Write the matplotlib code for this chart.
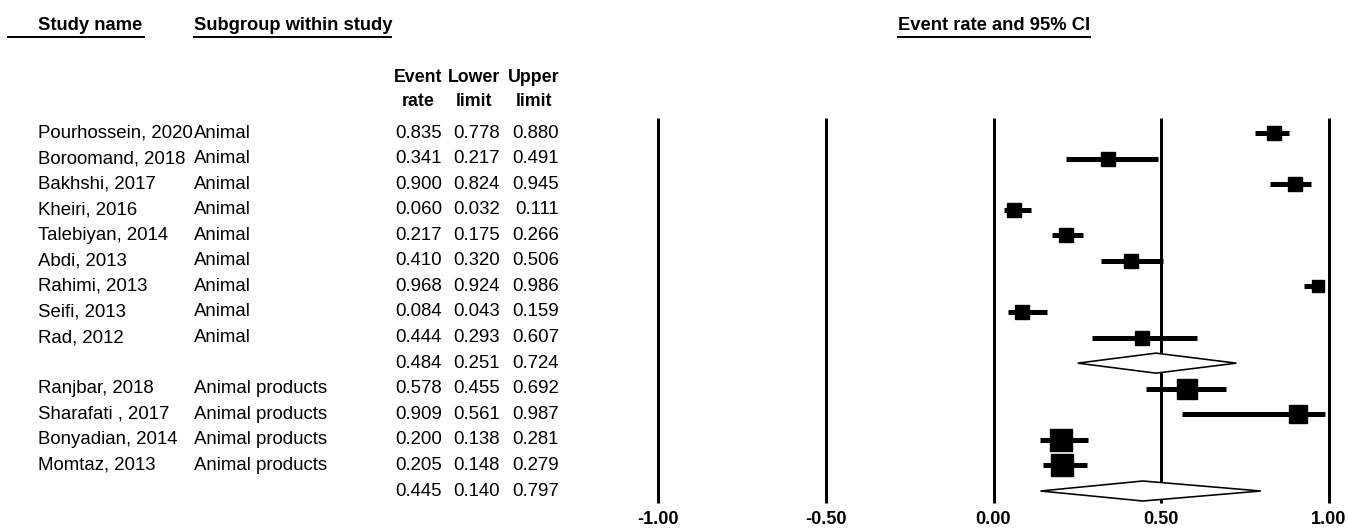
import matplotlib.pyplot as plt
from matplotlib.patches import Polygon
from matplotlib.transforms import blended_transform_factory

plt.rcParams['font.family'] = ['Liberation Sans', 'DejaVu Sans']

# rows of the forest plot, top to bottom ('' name = subgroup summary)
study_names = ['Pourhossein, 2020', 'Boroomand, 2018', 'Bakhshi, 2017', 'Kheiri, 2016',
               'Talebiyan, 2014', 'Abdi, 2013', 'Rahimi, 2013', 'Seifi, 2013', 'Rad, 2012', '',
               'Ranjbar, 2018', 'Sharafati , 2017', 'Bonyadian, 2014', 'Momtaz, 2013', '']
subgroups = ['Animal'] * 9 + [''] + ['Animal products'] * 4 + ['']
event_rate = [0.835, 0.341, 0.900, 0.060, 0.217, 0.410, 0.968, 0.084, 0.444, 0.484,
              0.578, 0.909, 0.200, 0.205, 0.445]
lower_limit = [0.778, 0.217, 0.824, 0.032, 0.175, 0.320, 0.924, 0.043, 0.293, 0.251,
               0.455, 0.561, 0.138, 0.148, 0.140]
upper_limit = [0.880, 0.491, 0.945, 0.111, 0.266, 0.506, 0.986, 0.159, 0.607, 0.724,
               0.692, 0.987, 0.281, 0.279, 0.797]
is_summary = [False] * 9 + [True] + [False] * 4 + [True]
# relative study weights (drive the square size)
weights = [1.0, 1.0, 1.0, 1.05, 1.05, 1.0, 0.95, 1.0, 1.0, 0,
           1.55, 1.3, 1.6, 1.6, 0]
ticks = [-1.0, -0.5, 0.0, 0.5, 1.0]
tick_labels = ['-1.00', '-0.50', '0.00', '0.50', '1.00']

W, H = 1348, 529
fig = plt.figure(figsize=(W / 100, H / 100), dpi=100)

# row geometry in pixels
row0, row_step = 133, (491 - 133) / 14
def ypix(p):
    return (p - row0) / row_step

x_left, x_right = 658, 1329
ax = fig.add_axes([x_left / W, 0, (x_right - x_left) / W, 1])
ax.set_xlim(-1, 1)
ax.set_ylim(ypix(H), ypix(0))
ax.axis('off')

px = 72 / 100  # points per pixel

ax.vlines(ticks, ypix(118), ypix(503), color='black', lw=3 * px, zorder=1,
          clip_on=False)

for i in range(len(event_rate)):
    if is_summary[i]:
        h = 10 / row_step
        diamond = Polygon([(lower_limit[i], i), (event_rate[i], i - h),
                           (upper_limit[i], i), (event_rate[i], i + h)],
                          closed=True, facecolor='white', edgecolor='black',
                          lw=1.6 * px, zorder=3)
        ax.add_patch(diamond)
    else:
        ax.plot([lower_limit[i], upper_limit[i]], [i, i], color='black',
                lw=5 * px, solid_capstyle='butt', zorder=4, clip_on=False)
        ax.plot(event_rate[i], i, marker='s', color='black',
                markersize=13.5 * weights[i] * px, zorder=5, clip_on=False)

for t, lab in zip(ticks, tick_labels):
    ax.text(t, ypix(520), lab, ha='center', va='center', fontsize=13,
            fontweight='bold')

# text columns, x in figure pixels, y in data rows
tr = blended_transform_factory(fig.transFigure, ax.transData)
fs = 13.4
for i in range(len(event_rate)):
    ax.text(38 / W, i, study_names[i], transform=tr, ha='left', va='center', fontsize=fs)
    ax.text(194 / W, i, subgroups[i], transform=tr, ha='left', va='center', fontsize=fs)
    ax.text(442 / W, i, f'{event_rate[i]:.3f}', transform=tr, ha='right', va='center', fontsize=fs)
    ax.text(500 / W, i, f'{lower_limit[i]:.3f}', transform=tr, ha='right', va='center', fontsize=fs)
    ax.text(559 / W, i, f'{upper_limit[i]:.3f}', transform=tr, ha='right', va='center', fontsize=fs)

# column headers
col_heads = [('Event', 'rate', 418), ('Lower', 'limit', 474), ('Upper', 'limit', 534)]
for top, bottom, xc in col_heads:
    ax.text(xc / W, ypix(78), top, transform=tr, ha='center', va='center',
            fontsize=12.8, fontweight='bold')
    ax.text(xc / W, ypix(102), bottom, transform=tr, ha='center', va='center',
            fontsize=12.8, fontweight='bold')

# underlined top headers
heads = [('Study name', 38, 8, 144), ('Subgroup within study', 194, 194, 391),
         ('Event rate and 95% CI', 898, 898, 1090)]
for label, xt, x0, x1 in heads:
    ax.text(xt / W, ypix(25), label, transform=tr, ha='left', va='center',
            fontsize=13.2, fontweight='bold')
    ax.plot([x0 / W, x1 / W], [ypix(37), ypix(37)], transform=tr, color='black',
            lw=2 * px, clip_on=False)

fig.savefig('out.png', dpi=100, facecolor='white')
